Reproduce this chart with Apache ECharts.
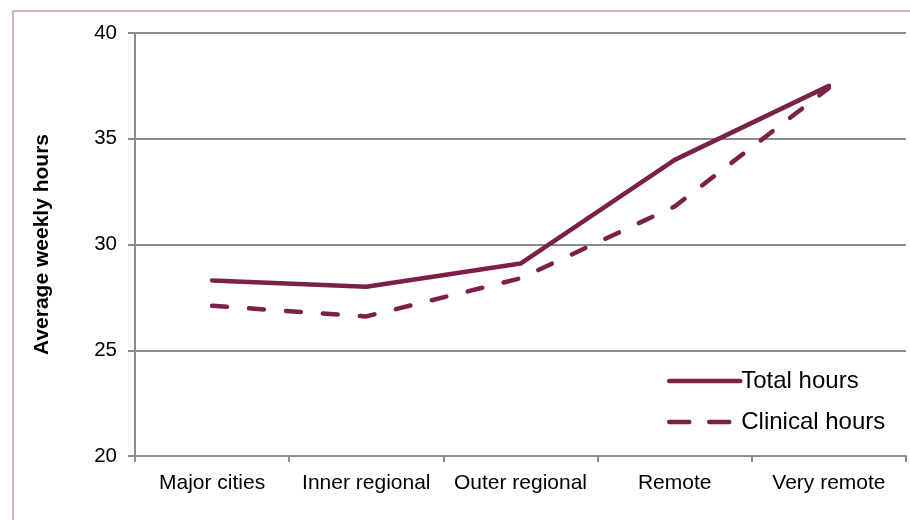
<!DOCTYPE html>
<html>
<head>
<meta charset="utf-8">
<script src="https://cdn.jsdelivr.net/npm/echarts@6/dist/echarts.min.js"></script>
<style>
  html, body { margin: 0; padding: 0; background: #fff; }
  #chart { width: 910px; height: 520px; }
</style>
</head>
<body>
<div id="chart"></div>
<script>
// data
const regions = ["Major cities", "Inner regional", "Outer regional", "Remote", "Very remote"];
const totalHours = [28.3, 28.0, 29.1, 34.0, 37.5];
const clinicalHours = [27.1, 26.6, 28.4, 31.8, 37.4];
const yTicks = [20, 25, 30, 35, 40];

const lineColor = "#7b2148";
const gridColor = "#8c8c8c";
const font = "Liberation Sans, Arial, sans-serif";

const chart = echarts.init(document.getElementById("chart"), null, { renderer: "canvas" });

chart.setOption({
  backgroundColor: "#fff",
  animation: false,
  graphic: [{
    type: "rect",
    shape: { x: 13, y: 11, width: 920, height: 540 },
    style: { fill: "none", stroke: "#c896a8", lineWidth: 1.5 },
    silent: true
  }],
  grid: { left: 135, top: 33, right: 4, bottom: 64 },
  legend: {
    orient: "vertical",
    left: 662,
    top: 364,
    itemWidth: 71,
    itemHeight: 14,
    itemGap: 17,
    itemStyle: { opacity: 0 },
    lineStyle: { width: 4.5, cap: "round" },
    textStyle: { fontFamily: font, fontSize: 24, color: "#000", padding: [0, 0, 0, -4] },
    data: [
      { name: "Total hours" },
      { name: "Clinical hours", lineStyle: { type: [20, 20], width: 4.5, cap: "round" } }
    ]
  },
  xAxis: {
    type: "category",
    data: regions,
    boundaryGap: true,
    axisLine: { lineStyle: { color: gridColor, width: 2 } },
    axisTick: { show: true, length: 6, lineStyle: { color: gridColor, width: 2 } },
    axisLabel: { interval: 0, fontFamily: font, fontSize: 21, color: "#000", margin: 17 }
  },
  yAxis: {
    type: "value",
    min: yTicks[0],
    max: yTicks[yTicks.length - 1],
    interval: 5,
    name: "Average weekly hours",
    nameLocation: "middle",
    nameRotate: 90,
    nameGap: 82,
    nameTextStyle: { fontFamily: font, fontSize: 21, fontWeight: "bold", color: "#000" },
    axisLine: { show: true, lineStyle: { color: gridColor, width: 2 } },
    axisTick: { show: true, length: 7, lineStyle: { color: gridColor, width: 2 } },
    axisLabel: { fontFamily: font, fontSize: 20.5, color: "#000", margin: 18 },
    splitLine: { lineStyle: { color: gridColor, width: 2 } }
  },
  series: [
    {
      name: "Total hours",
      type: "line",
      data: totalHours,
      symbol: "none",
      lineStyle: { color: lineColor, width: 4.5, cap: "round", join: "round" },
      itemStyle: { color: lineColor }
    },
    {
      name: "Clinical hours",
      type: "line",
      data: clinicalHours,
      symbol: "none",
      lineStyle: { color: lineColor, width: 4.5, type: [15, 22], cap: "round", join: "round" },
      itemStyle: { color: lineColor }
    }
  ]
});
</script>
</body>
</html>
